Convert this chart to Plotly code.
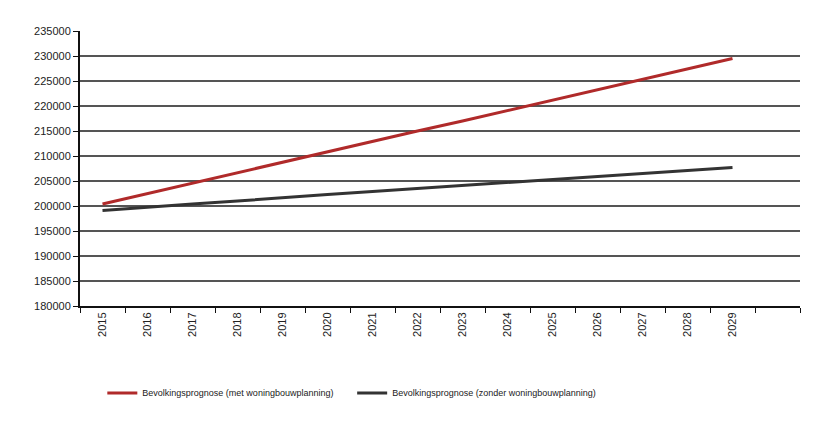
import plotly.graph_objects as go

years = list(range(2015, 2030))
met_woningbouw = [200400, 202500, 204600, 206700, 208800, 210800, 212900, 215000,
                  217000, 219100, 221200, 223300, 225300, 227400, 229500]
zonder_woningbouw = [199100, 199800, 200400, 201000, 201700, 202300, 202900, 203500,
                     204100, 204700, 205300, 205900, 206500, 207100, 207700]
y_ticks = list(range(180000, 235001, 5000))

fig = go.Figure()
fig.add_trace(go.Scatter(x=years, y=met_woningbouw, mode="lines",
                         name="Bevolkingsprognose (met woningbouwplanning)",
                         line=dict(color="#B02A2A", width=3), legend="legend"))
fig.add_trace(go.Scatter(x=years, y=zonder_woningbouw, mode="lines",
                         name="Bevolkingsprognose (zonder woningbouwplanning)",
                         line=dict(color="#333333", width=3), legend="legend2"))

leg_common = dict(orientation="h", xanchor="left", y=-0.316, yanchor="middle",
                  font=dict(size=9), bgcolor="rgba(0,0,0,0)")
fig.update_layout(
    width=833, height=430,
    margin=dict(l=80, r=33, t=31, b=124),
    paper_bgcolor="white", plot_bgcolor="white",
    font=dict(family="Liberation Sans, Arial, sans-serif", color="#222222", size=11),
    showlegend=True,
    legend=dict(x=0.031, **leg_common),
    legend2=dict(x=0.378, **leg_common),
)
fig.update_xaxes(
    range=[2014.5, 2030.5], tickmode="array", tickvals=years,
    ticktext=[str(y) for y in years], tickangle=-90, ticks="",
    showgrid=False, zeroline=False,
    showline=True, linecolor="#111111", linewidth=2,
    minor=dict(ticks="outside", tick0=2014.5, dtick=1, ticklen=5,
               tickcolor="#111111", tickwidth=1, showgrid=False),
    tickfont=dict(size=11),
)
fig.update_yaxes(
    range=[180000, 235000], tickmode="array", tickvals=y_ticks,
    ticktext=[str(v) for v in y_ticks],
    showgrid=True, gridcolor="#555555", gridwidth=2, zeroline=False,
    showline=True, linecolor="#111111", linewidth=2,
    ticks="outside", ticklen=5, tickcolor="#111111",
    tickfont=dict(size=11),
)

fig.write_html("out.html")
